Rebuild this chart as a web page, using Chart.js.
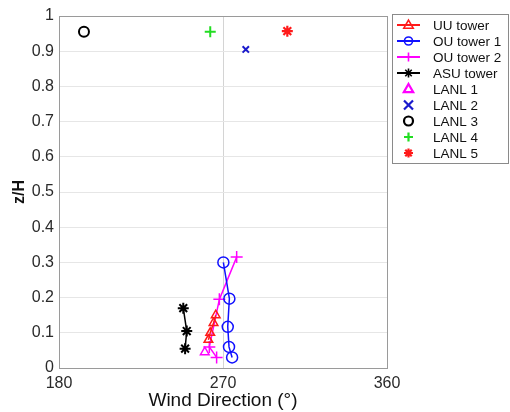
<!DOCTYPE html>
<html>
<head>
<meta charset="utf-8">
<script src="https://cdn.jsdelivr.net/npm/chart.js@4/dist/chart.umd.min.js"></script>
<style>
html,body{margin:0;padding:0;background:#fff;}
#wrap{position:relative;width:510px;height:412px;}
</style>
</head>
<body>
<div id="wrap"><canvas id="c" width="510" height="412"></canvas></div>
<script>
// ---- data (wind direction in degrees, z/H) ----
const uuDir   = [266, 264.8, 263, 262];
const uuZ     = [0.15, 0.128, 0.10, 0.08];
const ou1Dir  = [270.2, 273.5, 272.6, 273.3, 275];
const ou1Z    = [0.30, 0.197, 0.117, 0.06, 0.03];
const ou2Dir  = [277.5, 268, 262.5, 266.5];
const ou2Z    = [0.315, 0.195, 0.06, 0.03];
const asuDir  = [248.2, 250.1, 249.2];
const asuZ    = [0.17, 0.105, 0.055];
const lanl1Dir = [260]; const lanl1Z = [0.045];
const lanl2Dir = [282.5]; const lanl2Z = [0.905];
const lanl3Dir = [193.7]; const lanl3Z = [0.955];
const lanl4Dir = [263]; const lanl4Z = [0.955];
const lanl5Dir = [305.3]; const lanl5Z = [0.957];
const seriesNames = ['UU tower','OU tower 1','OU tower 2','ASU tower','LANL 1','LANL 2','LANL 3','LANL 4','LANL 5'];
const xTicks = [180, 270, 360];
const xTickLabels = ['180', '270', '360'];
const yTicks = [0,0.1,0.2,0.3,0.4,0.5,0.6,0.7,0.8,0.9,1];
const yTickLabels = ['0','0.1','0.2','0.3','0.4','0.5','0.6','0.7','0.8','0.9','1'];

const pts = (xs, ys) => xs.map((x, i) => ({x: x, y: ys[i]}));

const styles = [
  {c:'#ff1a1a', p:'triangle', line:true,  r:5, w:1.5},
  {c:'#1010ff', p:'circle',   line:true,  r:5.5, w:1.5},
  {c:'#ff00ff', p:'cross',    line:true,  r:6, w:1.5},
  {c:'#000000', p:'star',     line:true,  r:5.5, w:2},
  {c:'#ff00ff', p:'triangle', line:false, r:5, w:1.5},
  {c:'#1a1acc', p:'crossRot', line:false, r:4.5, w:2},
  {c:'#000000', p:'circle',   line:false, r:5, w:2},
  {c:'#22dd22', p:'cross',    line:false, r:5.5, w:2},
  {c:'#ff1a1a', p:'star',     line:false, r:5.5, w:2.2}
];
const dataArr = [
  pts(uuDir, uuZ), pts(ou1Dir, ou1Z), pts(ou2Dir, ou2Z), pts(asuDir, asuZ),
  pts(lanl1Dir, lanl1Z), pts(lanl2Dir, lanl2Z), pts(lanl3Dir, lanl3Z),
  pts(lanl4Dir, lanl4Z), pts(lanl5Dir, lanl5Z)
];

const datasets = dataArr.map((d, i) => ({
  label: seriesNames[i],
  data: d,
  showLine: styles[i].line,
  borderColor: styles[i].c,
  borderWidth: 1.5,
  pointStyle: styles[i].p,
  pointRadius: styles[i].r,
  pointBorderWidth: styles[i].w,
  pointBorderColor: styles[i].c,
  pointBackgroundColor: 'rgba(0,0,0,0)',
  fill: false,
  tension: 0
}));

const FONT = "'Liberation Sans', Arial, Helvetica, sans-serif";

function drawMarker(ctx, style, r, x, y) {
  ctx.beginPath();
  if (style === 'circle') {
    ctx.arc(x, y, r, 0, Math.PI * 2);
  } else if (style === 'triangle') {
    const s = r * 1.1;
    ctx.moveTo(x, y - s);
    ctx.lineTo(x + s * 0.95, y + s * 0.65);
    ctx.lineTo(x - s * 0.95, y + s * 0.65);
    ctx.closePath();
  } else if (style === 'cross' || style === 'star') {
    ctx.moveTo(x - r, y); ctx.lineTo(x + r, y);
    ctx.moveTo(x, y - r); ctx.lineTo(x, y + r);
    if (style === 'star') {
      const d = r * 0.72;
      ctx.moveTo(x - d, y - d); ctx.lineTo(x + d, y + d);
      ctx.moveTo(x - d, y + d); ctx.lineTo(x + d, y - d);
    }
  } else if (style === 'crossRot') {
    ctx.moveTo(x - r, y - r); ctx.lineTo(x + r, y + r);
    ctx.moveTo(x - r, y + r); ctx.lineTo(x + r, y - r);
  }
  ctx.stroke();
}

const framePlugin = {
  id: 'frameAndLegend',
  afterDraw(chart) {
    const ctx = chart.ctx, a = chart.chartArea;
    ctx.save();
    ctx.strokeStyle = '#9a9a9a';
    ctx.lineWidth = 1;
    ctx.strokeRect(Math.round(a.left) + 0.5, Math.round(a.top) + 0.5,
                   Math.round(a.right - a.left), Math.round(a.bottom - a.top));
    // legend box
    const bx = 392, by = 14, bw = 116, bh = 149;
    ctx.fillStyle = '#fff';
    ctx.fillRect(bx, by, bw, bh);
    ctx.strokeStyle = '#8a8a8a';
    ctx.strokeRect(bx + 0.5, by + 0.5, bw, bh);
    ctx.font = '13.5px ' + FONT;
    ctx.textBaseline = 'middle';
    ctx.textAlign = 'left';
    for (let i = 0; i < seriesNames.length; i++) {
      const y = 25 + i * 16;
      const st = styles[i];
      ctx.strokeStyle = st.c;
      ctx.lineWidth = 2;
      if (st.line) {
        ctx.beginPath(); ctx.moveTo(397, y); ctx.lineTo(420, y); ctx.stroke();
        ctx.lineWidth = 1.6;
        drawMarker(ctx, st.p, st.p === 'circle' ? 4 : 4.5, 408.5, y);
      } else {
        ctx.lineWidth = 2.2;
        drawMarker(ctx, st.p, 4.5, 408.5, y);
      }
      ctx.fillStyle = '#111';
      ctx.fillText(seriesNames[i], 433, y + 1);
    }
    ctx.restore();
  }
};

new Chart(document.getElementById('c'), {
  type: 'scatter',
  data: { datasets: datasets },
  options: {
    responsive: false,
    animation: false,
    devicePixelRatio: 1,
    layout: { padding: { top: 16, right: 123, left: 0, bottom: 0 } },
    plugins: { legend: { display: false }, tooltip: { enabled: false } },
    scales: {
      x: {
        type: 'linear', min: 180, max: 360,
        afterBuildTicks(s) { s.ticks = xTicks.map(v => ({ value: v })); },
        afterFit(s) { s.height = 44; },
        ticks: {
          font: { family: FONT, size: 16 }, color: '#2a2a2a', padding: 6,
          maxRotation: 0, autoSkip: false,
          callback: (v, i) => xTickLabels[i]
        },
        grid: {
          drawTicks: false,
          color: ctx => (ctx.tick && ctx.tick.value === 270) ? '#d4d4d4' : 'rgba(0,0,0,0)'
        },
        border: { display: true, color: '#9a9a9a' },
        title: {
          display: true, text: 'Wind Direction (°)',
          font: { family: FONT, size: 19 }, color: '#111',
          padding: { top: 0, bottom: 0 }
        }
      },
      y: {
        type: 'linear', min: 0, max: 1,
        afterBuildTicks(s) { s.ticks = yTicks.map(v => ({ value: v })); },
        afterFit(s) { s.width = 59; },
        ticks: {
          font: { family: FONT, size: 16 }, color: '#2a2a2a', padding: 5,
          autoSkip: false,
          callback: (v, i) => yTickLabels[i]
        },
        grid: { drawTicks: false, color: '#e6e6e6' },
        border: { display: true, color: '#9a9a9a' },
        title: {
          display: true, text: 'z/H',
          font: { family: FONT, size: 16, weight: 'bold' }, color: '#111',
          padding: { top: 10, bottom: 0 }
        }
      }
    }
  },
  plugins: [framePlugin]
});
</script>
</body>
</html>
